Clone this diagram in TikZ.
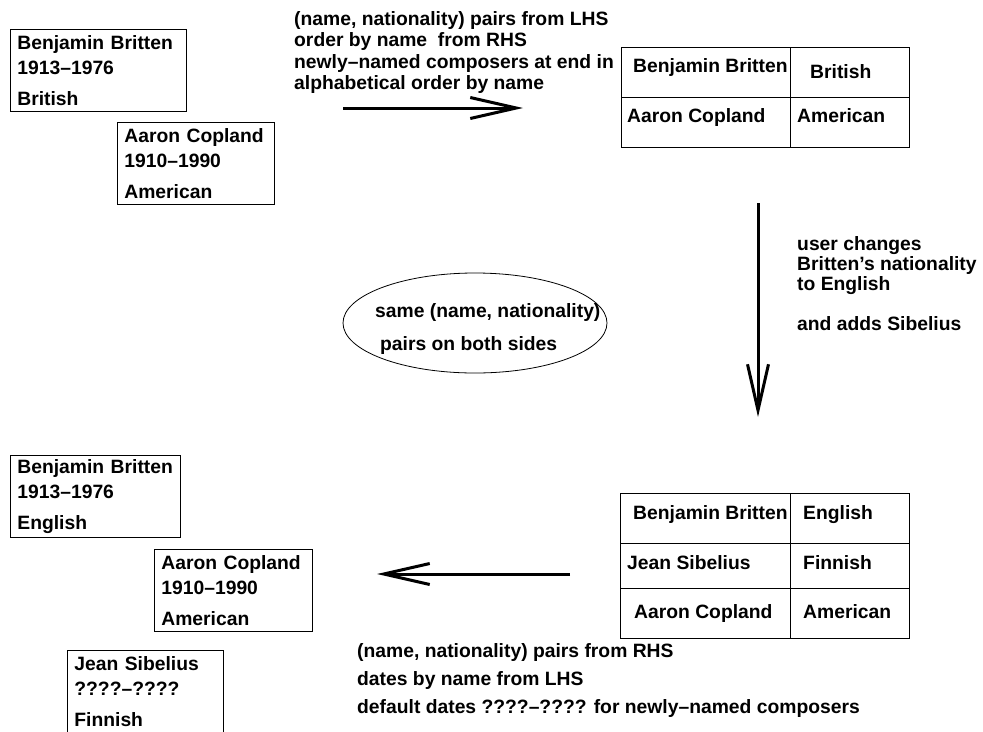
\documentclass[tikz,border=0pt]{standalone}
\usepackage{fontspec}
\setmainfont{Liberation Sans}
\usetikzlibrary{arrows.meta,shapes.geometric}

\tikzset{
  every node/.style={font=\bfseries\fontsize{19.3}{25}\selectfont},
  card/.style={draw, line width=0.8pt, anchor=north west, align=left,
    inner xsep=7pt, inner ysep=0pt, minimum height=82pt, text width=#1},
  txt/.style={anchor=base west, inner sep=0pt},
  note/.style={anchor=north west, inner sep=0pt, align=left},
  frame/.style={draw, line width=0.8pt, anchor=north west, inner sep=0pt},
  big arrow/.style={line width=3pt, -{Straight Barb[length=46pt,width=21pt]}}
}

\begin{document}
\begin{tikzpicture}[x=1pt,y=-1pt]
  \useasboundingbox (0,0) rectangle (983,731.5);

  % left hand side, before
  \node[card=162pt] (bb1) at (10,29) {Benjamin Britten\\1913--1976\\[6pt]British};
  \node[card=143pt] (ac1) at (117,122) {Aaron Copland\\1910--1990\\[6pt]American};

  % right hand side, before
  \node[frame, minimum width=288pt, minimum height=100pt] (tabTop) at (621,47) {};
  \draw[line width=0.8pt] (790,47) -- (790,147);
  \draw[line width=0.8pt] (tabTop.west) -- (tabTop.east);
  \node[txt] (tBB1) at (633,72) {Benjamin Britten};
  \node[txt] (tBr1) at (810,78) {British};
  \node[txt] (tAC1) at (627,122) {Aaron Copland};
  \node[txt] (tAm1) at (797,122) {American};

  % right hand side, after
  \node[frame, minimum width=289pt, minimum height=145pt] (tabBot) at (620,493) {};
  \draw[line width=0.8pt] (790,493) -- (790,638);
  \draw[line width=0.8pt] (620,543) -- (909,543);
  \draw[line width=0.8pt] (620,588) -- (909,588);
  \node[txt] (tBB2) at (633,519) {Benjamin Britten};
  \node[txt] (tEn2) at (803,519) {English};
  \node[txt] (tJS2) at (627,569) {Jean Sibelius};
  \node[txt] (tFi2) at (803,569) {Finnish};
  \node[txt] (tAC2) at (634,618) {Aaron Copland};
  \node[txt] (tAm2) at (803,618) {American};

  % left hand side, after
  \node[card=156pt] (bb2) at (10,455) {Benjamin Britten\\1913--1976\\[6pt]English};
  \node[card=144pt] (ac2) at (154,549) {Aaron Copland\\1910--1990\\[6pt]American};
  \node[card=142pt] (js2) at (67,650) {Jean Sibelius\\????--????\\[6pt]Finnish};

  % consistency
  \node[draw, ellipse, line width=0.8pt, minimum width=264pt, minimum height=100pt] (same) at (475,323) {};
  \node[txt] (same1) at (375,317) {same (name, nationality)};
  \node[txt] (same2) at (380,350) {pairs on both sides};

  % the three transformations
  \coordinate (putL) at (343,108);
  \coordinate (putR) at (523,108);
  \coordinate (editT) at (758,203);
  \coordinate (editB) at (758,417);
  \coordinate (getR) at (570,574);
  \coordinate (getL) at (377,574);
  \draw[big arrow] (putL) -- (putR);
  \draw[big arrow] (editT) -- (editB);
  \draw[big arrow] (getR) -- (getL);

  \node[note, font=\bfseries\fontsize{19.3}{21.5}\selectfont] (putNote) at (294,11)
    {(name, nationality) pairs from LHS\\order by name\ \ from RHS\\newly--named composers at end in\\alphabetical order by name};
  \node[note, font=\bfseries\fontsize{19.3}{20}\selectfont] (editNote) at (797,236)
    {user changes\\Britten’s nationality\\to English\\[20pt]and adds Sibelius};
  \node[note, font=\bfseries\fontsize{19.3}{28}\selectfont] (getNote) at (357,643)
    {(name, nationality) pairs from RHS\\dates by name from LHS\\default dates ????--???? for newly--named composers};
\end{tikzpicture}
\end{document}
